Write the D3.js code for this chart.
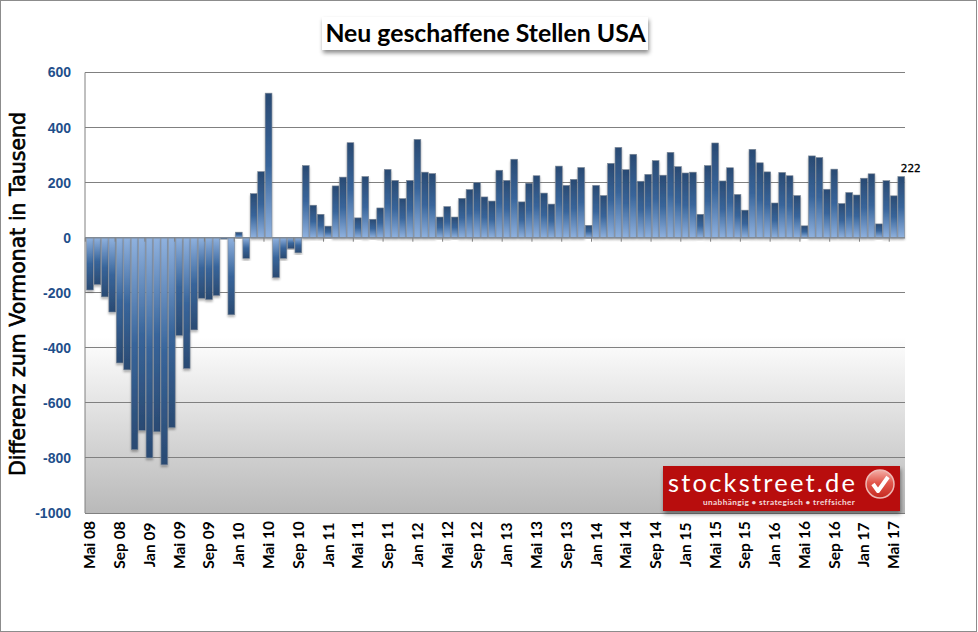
<!DOCTYPE html>
<html>
<head>
<meta charset="utf-8">
<script src="https://cdn.jsdelivr.net/npm/d3@7"></script>
<style>
  html, body { margin: 0; padding: 0; background: #fff; }
  svg { display: block; }
</style>
</head>
<body>
<svg id="chart" width="978" height="632"></svg>
<script>
const months = ["Jan", "Feb", "Mrz", "Apr", "Mai", "Jun", "Jul", "Aug", "Sep", "Okt", "Nov", "Dez"];

const values2008 = [-190, -170, -215, -270, -455, -480, -770, -700];
const values2009 = [-800, -705, -825, -690, -355, -475, -335, -220, -225, -210, -5, -280];
const values2010 = [20, -75, 160, 240, 525, -145, -75, -40, -55, 262, 118, 85];
const values2011 = [42, 188, 220, 345, 72, 222, 67, 108, 248, 208, 142, 208];
const values2012 = [357, 238, 233, 75, 113, 75, 143, 175, 200, 148, 133, 245];
const values2013 = [208, 285, 130, 198, 225, 162, 122, 260, 190, 212, 255, 45];
const values2014 = [190, 153, 270, 328, 247, 303, 205, 230, 280, 227, 310, 258];
const values2015 = [235, 238, 85, 262, 344, 206, 254, 157, 100, 321, 272, 239];
const values2016 = [126, 237, 225, 153, 43, 297, 291, 176, 249, 124, 164, 155];
const values2017 = [216, 232, 50, 207, 152, 222];

const yTicks = [600, 400, 200, 0, -200, -400, -600, -800, -1000];

const title = "Neu geschaffene Stellen USA";
const yTitle = "Differenz zum Vormonat in Tausend";

// First bar is May 2008
const yearValues = [values2008, values2009, values2010, values2011, values2012,
  values2013, values2014, values2015, values2016, values2017];
const data = [];
yearValues.forEach((list, i) => {
  const year = 8 + i;
  const start = i === 0 ? 4 : 0;
  list.forEach((value, j) => {
    data.push({
      label: months[start + j] + " " + String(year).padStart(2, "0"),
      value: value
    });
  });
});

const svg = d3.select("#chart");
const defs = svg.append("defs");

const margins = { top: 72.5, right: 73, bottom: 119, left: 85 };
const width = +svg.attr("width") - margins.left - margins.right;
const height = +svg.attr("height") - margins.top - margins.bottom;

function addGradient(id, stops) {
  const gradient = defs.append("linearGradient")
    .attr("id", id)
    .attr("x1", 0).attr("y1", 0).attr("x2", 0).attr("y2", 1);
  stops.forEach(s => {
    gradient.append("stop").attr("offset", s[0]).attr("stop-color", s[1]);
  });
}

addGradient("barUp", [[0, "#2a4a72"], [0.5, "#38659b"], [1, "#90b2df"]]);
addGradient("barDown", [[0, "#90b2df"], [0.5, "#38659b"], [1, "#2a4a72"]]);
addGradient("plotBg", [[0, "#ffffff"], [0.6, "#ffffff"], [0.63, "#f9f9f9"], [1, "#b9b9b9"]]);
addGradient("badge", [[0, "#f4b0a8"], [0.45, "#e2574c"], [1, "#c5281f"]]);

const shadow = defs.append("filter")
  .attr("id", "shadow")
  .attr("x", "-20%").attr("y", "-20%").attr("width", "140%").attr("height", "150%");
shadow.append("feDropShadow")
  .attr("dx", 1).attr("dy", 3).attr("stdDeviation", 2)
  .attr("flood-color", "#000").attr("flood-opacity", 0.45);

const barShadow = defs.append("filter")
  .attr("id", "barShadow")
  .attr("x", "-40%").attr("y", "-5%").attr("width", "180%").attr("height", "115%");
barShadow.append("feDropShadow")
  .attr("dx", 0).attr("dy", 2).attr("stdDeviation", 1.2)
  .attr("flood-color", "#000").attr("flood-opacity", 0.3);

// Outer frame
svg.append("rect")
  .attr("x", 0.5).attr("y", 0.5)
  .attr("width", 976).attr("height", 631)
  .attr("fill", "#fff")
  .attr("stroke", "#8c8c8c");

const g = svg.append("g")
  .attr("transform", `translate(${margins.left}, ${margins.top})`);

// Axis
const x = d3.scaleBand()
  .range([1.2, width])
  .paddingInner(0.09)
  .paddingOuter(0.045)
  .domain(data.map(d => d.label));

const y = d3.scaleLinear()
  .range([height, 0])
  .domain([-1000, 600]);

g.append("rect")
  .attr("width", width)
  .attr("height", height)
  .attr("fill", "url(#plotBg)");

// Grid lines
g.append("g")
  .selectAll("line")
  .data(yTicks)
  .enter()
  .append("line")
  .attr("x1", 0)
  .attr("x2", width)
  .attr("y1", d => y(d))
  .attr("y2", d => y(d))
  .attr("stroke", "#808080")
  .attr("stroke-width", 1)
  .attr("shape-rendering", "crispEdges");

g.append("line")
  .attr("x1", 0).attr("x2", 0)
  .attr("y1", 0).attr("y2", height)
  .attr("stroke", "#808080");

const yAxis = g.append("g")
  .call(d3.axisLeft(y).tickValues(yTicks).tickSize(0).tickPadding(14).tickFormat(d => String(d)));
yAxis.select(".domain").remove();
yAxis.selectAll("text")
  .attr("fill", "#1f4f8b")
  .style("font-family", "'Liberation Sans', Arial, sans-serif")
  .style("font-weight", "bold")
  .style("font-size", "14px");

// Bars
g.append("g")
  .selectAll(".bar")
  .data(data)
  .enter()
  .append("rect")
  .attr("class", "bar")
  .attr("x", d => x(d.label))
  .attr("y", d => y(Math.max(0, d.value)))
  .attr("width", x.bandwidth())
  .attr("height", d => Math.abs(y(d.value) - y(0)))
  .attr("fill", d => d.value >= 0 ? "url(#barUp)" : "url(#barDown)")
  .attr("stroke", "#7d8896")
  .attr("stroke-width", 0.6)
  .attr("filter", "url(#barShadow)");

// Zero line with ticks every fourth month
const tickData = data.filter((d, i) => i % 4 === 0);
const zero = g.append("g").attr("transform", `translate(0, ${y(0)})`);
zero.append("line")
  .attr("x1", 0).attr("x2", width)
  .attr("stroke", "#808a96")
  .attr("stroke-width", 1.5);
zero.selectAll(".tick")
  .data(tickData)
  .enter()
  .append("line")
  .attr("class", "tick")
  .attr("x1", d => x(d.label) - 1.2)
  .attr("x2", d => x(d.label) - 1.2)
  .attr("y1", 0)
  .attr("y2", 4)
  .attr("stroke", "#808080");

// Month labels, every fourth bar
g.append("g")
  .selectAll("text")
  .data(tickData)
  .enter()
  .append("text")
  .attr("transform", d => `translate(${x(d.label) + x.bandwidth() / 2}, ${height + 32}) rotate(-90)`)
  .attr("dy", "0.35em")
  .attr("text-anchor", "middle")
  .style("font-family", "Lato, 'Liberation Sans', sans-serif")
  .style("font-weight", "bold")
  .style("font-size", "15.5px")
  .attr("fill", "#000")
  .text(d => d.label);

// Value of the last bar
const last = data[data.length - 1];
g.append("text")
  .attr("x", x(last.label) + x.bandwidth() / 2 + 9.5)
  .attr("y", y(last.value) - 5)
  .attr("text-anchor", "middle")
  .style("font-family", "'DejaVu Sans', sans-serif")
  .style("font-size", "10.5px")
  .attr("fill", "#000")
  .attr("stroke", "#000")
  .attr("stroke-width", 0.3)
  .text(last.value);

// Y axis title
svg.append("text")
  .attr("transform", "translate(25, 294) rotate(-90)")
  .attr("text-anchor", "middle")
  .style("font-family", "'DejaVu Sans', sans-serif")
  .style("font-size", "20.5px")
  .attr("fill", "#000")
  .attr("stroke", "#000")
  .attr("stroke-width", 0.6)
  .text(yTitle);

// Chart title in its box
svg.append("rect")
  .attr("x", 322).attr("y", 17)
  .attr("width", 326).attr("height", 33)
  .attr("fill", "#fff")
  .attr("filter", "url(#shadow)");
svg.append("text")
  .attr("x", 485.5).attr("y", 42)
  .attr("text-anchor", "middle")
  .style("font-family", "Lato, sans-serif")
  .style("font-weight", "bold")
  .style("font-size", "24.8px")
  .attr("fill", "#000")
  .text(title);

// Logo
const logo = svg.append("g").attr("transform", "translate(663, 466)");
logo.append("rect")
  .attr("width", 237).attr("height", 45)
  .attr("fill", "#b80d10")
  .attr("filter", "url(#shadow)");
logo.append("text")
  .attr("x", 5).attr("y", 26)
  .style("font-family", "Lato, sans-serif")
  .style("font-size", "25.5px")
  .style("letter-spacing", "2.2px")
  .attr("fill", "#fff")
  .text("stockstreet.de");
logo.append("text")
  .attr("x", 40).attr("y", 39)
  .style("font-family", "Lato, sans-serif")
  .style("font-weight", "bold")
  .style("font-size", "8.2px")
  .style("letter-spacing", "0.4px")
  .attr("fill", "#f3d9d9")
  .text("unabhängig • strategisch • treffsicher");
logo.append("circle")
  .attr("cx", 217).attr("cy", 18).attr("r", 14)
  .attr("fill", "url(#badge)")
  .attr("stroke", "#eeb9b4")
  .attr("stroke-width", 1.5);
logo.append("path")
  .attr("d", d3.line()([[210, 18], [215, 25], [225, 11]]))
  .attr("fill", "none")
  .attr("stroke", "#fff")
  .attr("stroke-width", 4)
  .attr("stroke-linejoin", "round");
</script>
</body>
</html>
